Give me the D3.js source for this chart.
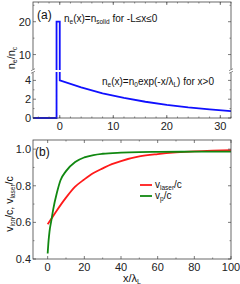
<!DOCTYPE html>
<html>
<head>
<meta charset="utf-8">
<script src="https://cdn.jsdelivr.net/npm/d3@7"></script>
<style>
  body { margin: 0; background: #fff; }
  svg { font-family: "Liberation Sans", Arial, sans-serif; }
</style>
</head>
<body>
<div id="chart"></div>
<script>
// panel (a): density profile
const densX = [-5, -0.6, -0.6, 0, 0, 4, 8, 12, 16, 20, 24, 28, 32];
const densY = [0, 0, 20, 20, 4, 3.25, 2.63, 2.13, 1.73, 1.4, 1.13, 0.92, 0.74];
const aXTicks = [0, 10, 20, 30];
const aYTicks = [0, 2, 4, 10, 20];

// panel (b): velocities
const laserX = [0, 2, 5, 10, 15, 20, 25, 30, 35, 40, 50, 60, 70, 80, 90, 100];
const laserY = [0.59, 0.62, 0.665, 0.735, 0.795, 0.835, 0.87, 0.895, 0.918, 0.935, 0.96, 0.973, 0.982, 0.988, 0.992, 0.995];
const pX = [0, 0.5, 1, 2, 3, 5, 7, 10, 15, 20, 25, 30, 40, 50, 60, 80, 100];
const pY = [0.43, 0.5, 0.55, 0.61, 0.67, 0.76, 0.83, 0.88, 0.93, 0.955, 0.968, 0.975, 0.981, 0.984, 0.985, 0.986, 0.987];
const bXTicks = [0, 20, 40, 60, 80, 100];
const bYTicks = [0.4, 0.6, 0.8, 1.0];

const W = 240, H = 284;
const svg = d3.select("#chart").append("svg").attr("width", W).attr("height", H);

const frame = "#444";

function box(g, x, y) {
  const [x0, x1] = x.range(), [y0, y1] = [d3.max(y.range()), d3.min(y.range())];
  g.append("rect").attr("x", x0).attr("y", y1).attr("width", x1 - x0).attr("height", y0 - y1)
    .attr("fill", "none").attr("stroke", frame).attr("stroke-width", 0.8);
}

function ticksX(g, x, y, major, minor, len) {
  const yb = d3.max(y.range()), yt = d3.min(y.range());
  minor.forEach(v => {
    g.append("line").attr("x1", x(v)).attr("x2", x(v)).attr("y1", yb).attr("y2", yb - len / 2).attr("stroke", frame).attr("stroke-width", 0.6);
    g.append("line").attr("x1", x(v)).attr("x2", x(v)).attr("y1", yt).attr("y2", yt + len / 2).attr("stroke", frame).attr("stroke-width", 0.6);
  });
  major.forEach(v => {
    g.append("line").attr("x1", x(v)).attr("x2", x(v)).attr("y1", yb).attr("y2", yb - len).attr("stroke", frame).attr("stroke-width", 0.7);
    g.append("line").attr("x1", x(v)).attr("x2", x(v)).attr("y1", yt).attr("y2", yt + len).attr("stroke", frame).attr("stroke-width", 0.7);
    g.append("text").attr("x", x(v)).attr("y", yb + 12).attr("text-anchor", "middle")
      .attr("font-size", 11).attr("fill", "#222").text(v);
  });
}

function ticksY(g, x, y, major, minor, len, fmt) {
  const xl = x.range()[0], xr = x.range()[1];
  minor.forEach(v => {
    g.append("line").attr("x1", xl).attr("x2", xl + len / 2).attr("y1", y(v)).attr("y2", y(v)).attr("stroke", frame).attr("stroke-width", 0.6);
    g.append("line").attr("x1", xr).attr("x2", xr - len / 2).attr("y1", y(v)).attr("y2", y(v)).attr("stroke", frame).attr("stroke-width", 0.6);
  });
  major.forEach(v => {
    g.append("line").attr("x1", xl).attr("x2", xl + len).attr("y1", y(v)).attr("y2", y(v)).attr("stroke", frame).attr("stroke-width", 0.7);
    g.append("line").attr("x1", xr).attr("x2", xr - len).attr("y1", y(v)).attr("y2", y(v)).attr("stroke", frame).attr("stroke-width", 0.7);
    g.append("text").attr("x", xl - 2).attr("y", y(v) + 4).attr("text-anchor", "end")
      .attr("font-size", 11).attr("fill", "#222").text(fmt(v));
  });
}

// ---------- panel (a)
const xa = d3.scaleLinear().domain([-5, 32]).range([33, 231]);
const ya = d3.scaleLinear().domain([0, 5, 26]).range([118, 71, 2]);
const ga = svg.append("g");

const lineA = d3.line().x(d => xa(d[0])).y(d => ya(d[1]));
ga.append("path").datum(d3.zip(densX, densY)).attr("d", lineA)
  .attr("fill", "none").attr("stroke", "#1010ff").attr("stroke-width", 1.8);

// gap where the axis is broken
ga.append("rect").attr("x", xa(-1.2)).attr("y", ya(5) - 1).attr("width", xa(0.6) - xa(-1.2)).attr("height", 2).attr("fill", "#fff");

box(ga, xa, ya);
ticksX(ga, xa, ya, aXTicks, d3.range(-4, 33, 2), 3);
ticksY(ga, xa, ya, aYTicks, [1, 3, 5, 15, 25], 3, d => d);

// break marks on both sides
[xa.range()[0], xa.range()[1]].forEach(bx => {
  ga.append("rect").attr("x", bx - 2).attr("y", ya(5) - 1.5).attr("width", 4).attr("height", 3).attr("fill", "#fff");
  [-1.3, 1.3].forEach(o => {
    ga.append("line").attr("x1", bx - 2).attr("x2", bx + 2).attr("y1", ya(5) + o + 1).attr("y2", ya(5) + o - 1)
      .attr("stroke", frame).attr("stroke-width", 0.6);
  });
});

ga.append("text").attr("x", 37).attr("y", 19).attr("font-size", 12).attr("fill", "#111").text("(a)");

const t1 = ga.append("text").attr("x", 64).attr("y", 22).attr("font-size", 10).attr("fill", "#111");
t1.append("tspan").text("n");
t1.append("tspan").attr("font-size", 6.5).attr("dy", 2).text("e");
t1.append("tspan").attr("dy", -2).text("(x)=n");
t1.append("tspan").attr("font-size", 6.5).attr("dy", 2).text("solid");
t1.append("tspan").attr("dy", -2).text("  for -L≤x≤0");

const t2 = ga.append("text").attr("x", 102).attr("y", 85).attr("font-size", 10).attr("fill", "#111");
t2.append("tspan").text("n");
t2.append("tspan").attr("font-size", 6.5).attr("dy", 2).text("e");
t2.append("tspan").attr("dy", -2).text("(x)=n");
t2.append("tspan").attr("font-size", 6.5).attr("dy", 2).text("0");
t2.append("tspan").attr("dy", -2).text("exp(-x/λ");
t2.append("tspan").attr("font-size", 6.5).attr("dy", 2).text("L");
t2.append("tspan").attr("dy", -2).text(") for x>0");

const ylA = ga.append("text").attr("transform", "translate(15,58) rotate(-90)").attr("text-anchor", "middle")
  .attr("font-size", 11).attr("fill", "#111");
ylA.append("tspan").text("n");
ylA.append("tspan").attr("font-size", 7).attr("dy", 2).text("e");
ylA.append("tspan").attr("dy", -2).text("/n");
ylA.append("tspan").attr("font-size", 7).attr("dy", 2).text("c");

// ---------- panel (b)
const xb = d3.scaleLinear().domain([-8, 100]).range([33, 231]);
const yb = d3.scaleLinear().domain([0.4, 1.05]).range([259, 140]);
const gb = svg.append("g");

const lineB = d3.line().x(d => xb(d[0])).y(d => yb(d[1])).curve(d3.curveMonotoneX);
gb.append("path").datum(d3.zip(laserX, laserY)).attr("d", lineB)
  .attr("fill", "none").attr("stroke", "#ff1a1a").attr("stroke-width", 1.8);
gb.append("path").datum(d3.zip(pX, pY)).attr("d", lineB)
  .attr("fill", "none").attr("stroke", "#118811").attr("stroke-width", 1.8);

box(gb, xb, yb);
ticksX(gb, xb, yb, bXTicks, d3.range(10, 100, 20), 3);
ticksY(gb, xb, yb, bYTicks, [0.5, 0.7, 0.9], 3, d3.format(".1f"));

gb.append("text").attr("x", 35).attr("y", 156).attr("font-size", 12).attr("fill", "#111").text("(b)");

// legend
const legend = [["laser", "#ff1a1a", 185], ["p", "#118811", 196]];
legend.forEach(([sub, col, ly]) => {
  gb.append("line").attr("x1", 140).attr("x2", 152).attr("y1", ly).attr("y2", ly).attr("stroke", col).attr("stroke-width", 1.8);
  const lt = gb.append("text").attr("x", 155).attr("y", ly + 3).attr("font-size", 10).attr("fill", "#111");
  lt.append("tspan").text("v");
  lt.append("tspan").attr("font-size", 6.5).attr("dy", 2).text(sub);
  lt.append("tspan").attr("dy", -2).text("/c");
});

const ylB = gb.append("text").attr("transform", "translate(13,204) rotate(-90)").attr("text-anchor", "middle")
  .attr("font-size", 10.5).attr("fill", "#111");
ylB.append("tspan").text("v");
ylB.append("tspan").attr("font-size", 6.5).attr("dy", 2).text("ion");
ylB.append("tspan").attr("dy", -2).text("/c, v");
ylB.append("tspan").attr("font-size", 6.5).attr("dy", 2).text("laser");
ylB.append("tspan").attr("dy", -2).text("/c");

const xlB = gb.append("text").attr("x", 132).attr("y", 282).attr("text-anchor", "middle").attr("font-size", 11).attr("fill", "#111");
xlB.append("tspan").text("x/λ");
xlB.append("tspan").attr("font-size", 7).attr("dy", 2).text("L");
</script>
</body>
</html>
